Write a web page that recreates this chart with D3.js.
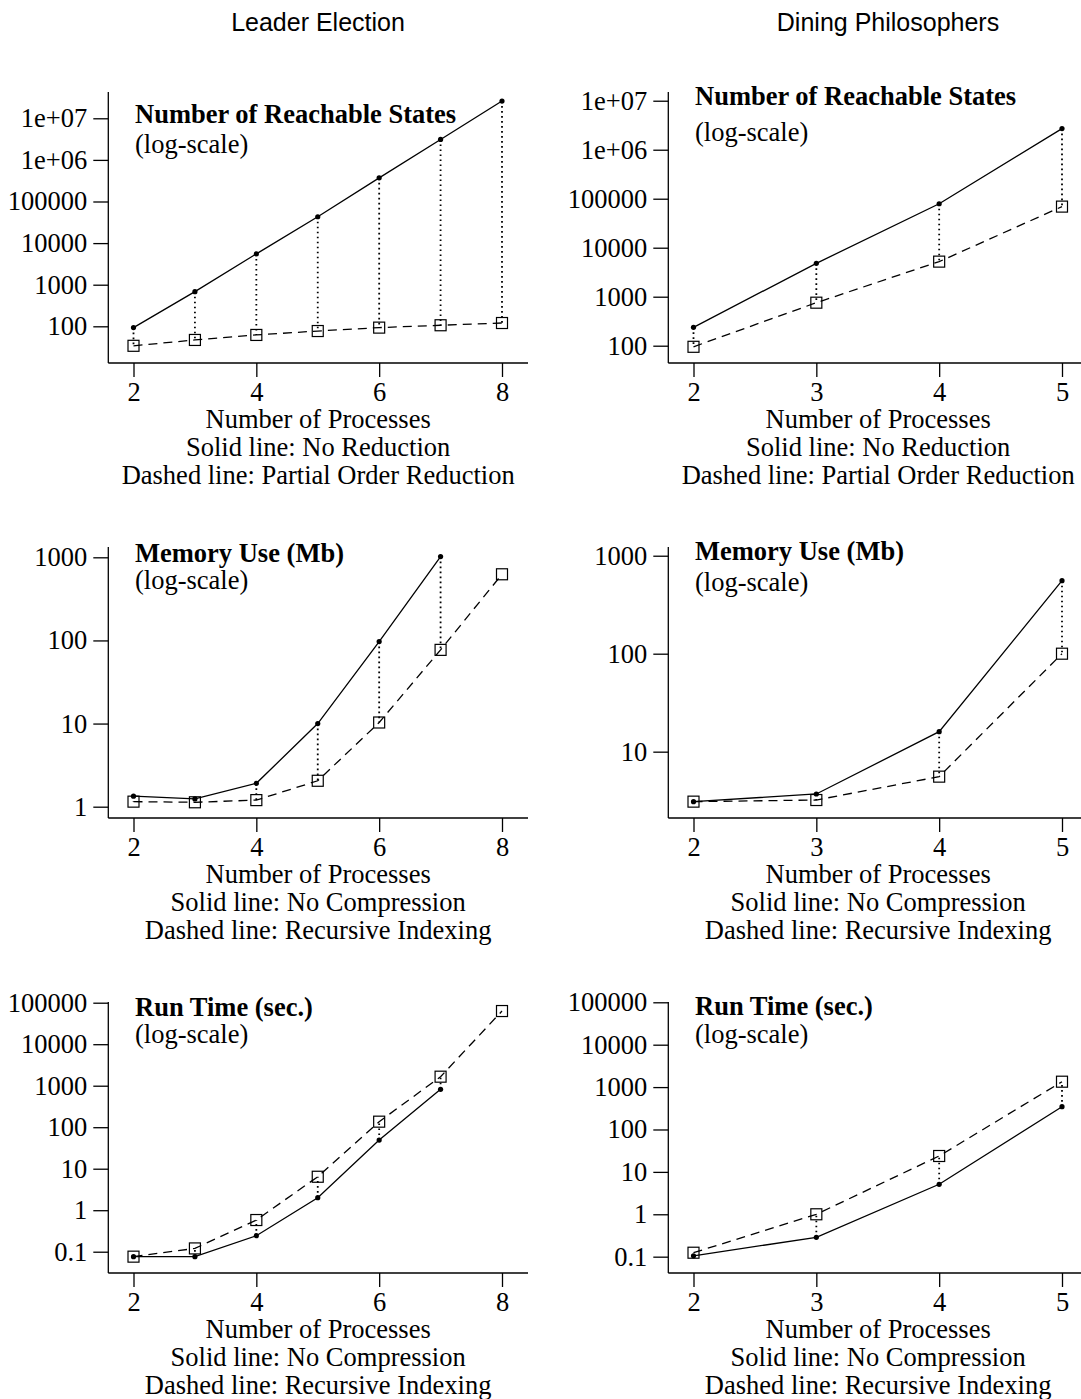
<!DOCTYPE html>
<html>
<head>
<meta charset="utf-8">
<script src="https://cdn.jsdelivr.net/npm/d3@7"></script>
<style>
  body { margin: 0; background: #fff; }
  svg text { fill: #000; }
</style>
</head>
<body>
<div id="chart"></div>
<script>
// x values (number of processes)
const leaderProcs = [2, 3, 4, 5, 6, 7, 8];
const diningProcs = [2, 3, 4, 5];

// number of reachable states
const leaderStatesNoRed = [93, 680, 5500, 43000, 370000, 3.1e6, 2.6e7];
const leaderStatesPOR   = [34, 47, 62, 77, 93, 106, 120];
const diningStatesNoRed = [237, 4800, 79000, 2.7e6];
const diningStatesPOR   = [95, 755, 5200, 69000];

// memory use (Mb) - no run for 8 leader processes without compression
const leaderMemNoComp = [1.34, 1.24, 1.91, 10, 97, 1020];
const leaderMemRecIdx = [1.15, 1.13, 1.2, 2.05, 10.3, 77, 625];
const diningMemNoComp = [3.09, 3.7, 16, 556];
const diningMemRecIdx = [3.09, 3.21, 5.56, 100];

// run time (sec.)
const leaderTimeNoComp = [0.076, 0.076, 0.243, 2.0, 49, 817];
const leaderTimeRecIdx = [0.076, 0.12, 0.58, 6.4, 136, 1650, 63000];
const diningTimeNoComp = [0.105, 0.286, 5.1, 345];
const diningTimeRecIdx = [0.124, 1.0, 23.7, 1340];

// y tick values and their labels
const stateTicks = [100, 1000, 10000, 100000, 1e6, 1e7];
const stateTickLabels = ["100", "1000", "10000", "100000", "1e+06", "1e+07"];
const memTicksLeader = [1, 10, 100, 1000];
const memTickLabelsLeader = ["1", "10", "100", "1000"];
const memTicksDining = [10, 100, 1000];
const memTickLabelsDining = ["10", "100", "1000"];
const timeTicks = [0.1, 1, 10, 100, 1000, 10000, 100000];
const timeTickLabels = ["0.1", "1", "10", "100", "1000", "10000", "100000"];

const columnTitles = ["Leader Election", "Dining Philosophers"];
const statesCaption = ["Number of Processes", "Solid line: No Reduction", "Dashed line: Partial Order Reduction"];
const compCaption = ["Number of Processes", "Solid line: No Compression", "Dashed line: Recursive Indexing"];

// layout
const width = 1081, height = 1399;
const colOffset = 560, rowOffset = 455;
const plotLeft = 108.3, plotRight = 528, plotTop = 92, plotBottom = 363;
const xFirst = 133.5, xLast = 502;
const serif = "'Liberation Serif', 'Times New Roman', serif";
const sans = "'Liberation Sans', Arial, Helvetica, sans-serif";
const fontSize = "26.5px";

const panels = [
  { col: 0, row: 0, x: leaderProcs, solid: leaderStatesNoRed, dashed: leaderStatesPOR,
    ticks: stateTicks, labels: stateTickLabels, logRange: [1.118, 7.632],
    title: "Number of Reachable States", titleY: 115, subY: 145, caption: statesCaption },
  { col: 1, row: 0, x: diningProcs, solid: diningStatesNoRed, dashed: diningStatesPOR,
    ticks: stateTicks, labels: stateTickLabels, logRange: [1.647, 7.178],
    title: "Number of Reachable States", titleY: 97, subY: 133, caption: statesCaption },
  { col: 0, row: 1, x: leaderProcs, solid: leaderMemNoComp, dashed: leaderMemRecIdx,
    ticks: memTicksLeader, labels: memTickLabelsLeader, logRange: [-0.136, 3.124],
    title: "Memory Use (Mb)", titleY: 99, subY: 126, caption: compCaption },
  { col: 1, row: 1, x: diningProcs, solid: diningMemNoComp, dashed: diningMemRecIdx,
    ticks: memTicksDining, labels: memTickLabelsDining, logRange: [0.323, 3.089],
    title: "Memory Use (Mb)", titleY: 97, subY: 128, caption: compCaption },
  { col: 0, row: 2, x: leaderProcs, solid: leaderTimeNoComp, dashed: leaderTimeRecIdx,
    ticks: timeTicks, labels: timeTickLabels, logRange: [-1.513, 5.017],
    title: "Run Time (sec.)", titleY: 98, subY: 125, caption: compCaption },
  { col: 1, row: 2, x: diningProcs, solid: diningTimeNoComp, dashed: diningTimeRecIdx,
    ticks: timeTicks, labels: timeTickLabels, logRange: [-1.385, 5.007],
    title: "Run Time (sec.)", titleY: 97, subY: 125, caption: compCaption }
];

const svg = d3.select("#chart").append("svg")
  .attr("width", width)
  .attr("height", height);

svg.append("rect").attr("width", width).attr("height", height).attr("fill", "#fff");

// column headings
svg.selectAll("text.coltitle")
  .data(columnTitles)
  .join("text")
  .attr("class", "coltitle")
  .attr("x", (d, i) => i === 0 ? 318 : 888)
  .attr("y", 31)
  .attr("text-anchor", "middle")
  .style("font-family", sans)
  .style("font-size", "25px")
  .text(d => d);

panels.forEach(p => {
  const g = svg.append("g")
    .attr("transform", `translate(${p.col * colOffset},${p.row * rowOffset})`);

  const x = d3.scaleLinear()
    .domain(d3.extent(p.x))
    .range([xFirst, xLast]);
  const y = d3.scaleLog()
    .domain(p.logRange.map(e => Math.pow(10, e)))
    .range([plotBottom, plotTop]);

  // x axis
  const xAxis = g.append("g")
    .attr("transform", `translate(0,${plotBottom})`)
    .call(d3.axisBottom(x).tickValues(p.x.filter(v => p.x.length < 5 || v % 2 === 0))
      .tickFormat(d3.format("d")).tickSize(14).tickSizeOuter(0).tickPadding(5));
  xAxis.select(".domain").remove();
  xAxis.append("line")
    .attr("x1", plotLeft).attr("x2", plotRight)
    .attr("stroke", "#000").attr("stroke-width", 1.3);

  // y axis
  const yAxis = g.append("g")
    .attr("transform", `translate(${plotLeft},0)`)
    .call(d3.axisLeft(y).tickValues(p.ticks)
      .tickFormat((d, i) => p.labels[i]).tickSize(15).tickPadding(6));
  yAxis.select(".domain").remove();
  yAxis.append("line")
    .attr("y1", plotTop).attr("y2", plotBottom)
    .attr("stroke", "#000").attr("stroke-width", 1.3);

  [xAxis, yAxis].forEach(a => {
    a.selectAll(".tick line").attr("stroke", "#000").attr("stroke-width", 1.3);
    a.selectAll(".tick text")
      .style("font-family", serif)
      .style("font-size", fontSize);
  });

  // dotted connectors between the two series
  const pairs = p.x.map((v, i) => ({ v, a: p.solid[i], b: p.dashed[i] }))
    .filter(d => d.a !== undefined && d.b !== undefined);
  g.selectAll("line.gap")
    .data(pairs)
    .join("line")
    .attr("class", "gap")
    .attr("x1", d => x(d.v)).attr("x2", d => x(d.v))
    .attr("y1", d => y(d.a)).attr("y2", d => y(d.b))
    .attr("stroke", "#000")
    .attr("stroke-width", 1.8)
    .attr("stroke-dasharray", "1.6,3.4");

  const solidPts = p.solid.map((v, i) => [p.x[i], v]);
  const dashedPts = p.dashed.map((v, i) => [p.x[i], v]);
  const line = d3.line().x(d => x(d[0])).y(d => y(d[1]));

  g.append("path")
    .attr("d", line(dashedPts))
    .attr("fill", "none")
    .attr("stroke", "#000")
    .attr("stroke-width", 1.3)
    .attr("stroke-dasharray", "9,6");

  g.append("path")
    .attr("d", line(solidPts))
    .attr("fill", "none")
    .attr("stroke", "#000")
    .attr("stroke-width", 1.3);

  g.selectAll("rect.sq")
    .data(dashedPts)
    .join("rect")
    .attr("class", "sq")
    .attr("x", d => x(d[0]) - 5.5)
    .attr("y", d => y(d[1]) - 5.5)
    .attr("width", 11)
    .attr("height", 11)
    .attr("fill", "none")
    .attr("stroke", "#000")
    .attr("stroke-width", 1.2);

  g.selectAll("circle.pt")
    .data(solidPts)
    .join("circle")
    .attr("class", "pt")
    .attr("cx", d => x(d[0]))
    .attr("cy", d => y(d[1]))
    .attr("r", 2.6)
    .attr("fill", "#000");

  // panel title
  g.append("text")
    .attr("x", 135)
    .attr("y", p.titleY + 8)
    .style("font-family", serif)
    .style("font-size", fontSize)
    .style("font-weight", "bold")
    .text(p.title);
  g.append("text")
    .attr("x", 135)
    .attr("y", p.subY + 8)
    .style("font-family", serif)
    .style("font-size", fontSize)
    .text("(log-scale)");

  // caption under the x axis
  g.selectAll("text.caption")
    .data(p.caption)
    .join("text")
    .attr("class", "caption")
    .attr("x", (plotLeft + plotRight) / 2)
    .attr("y", (d, i) => 420 + i * 28 + 8)
    .attr("text-anchor", "middle")
    .style("font-family", serif)
    .style("font-size", fontSize)
    .text(d => d);
});
</script>
</body>
</html>
